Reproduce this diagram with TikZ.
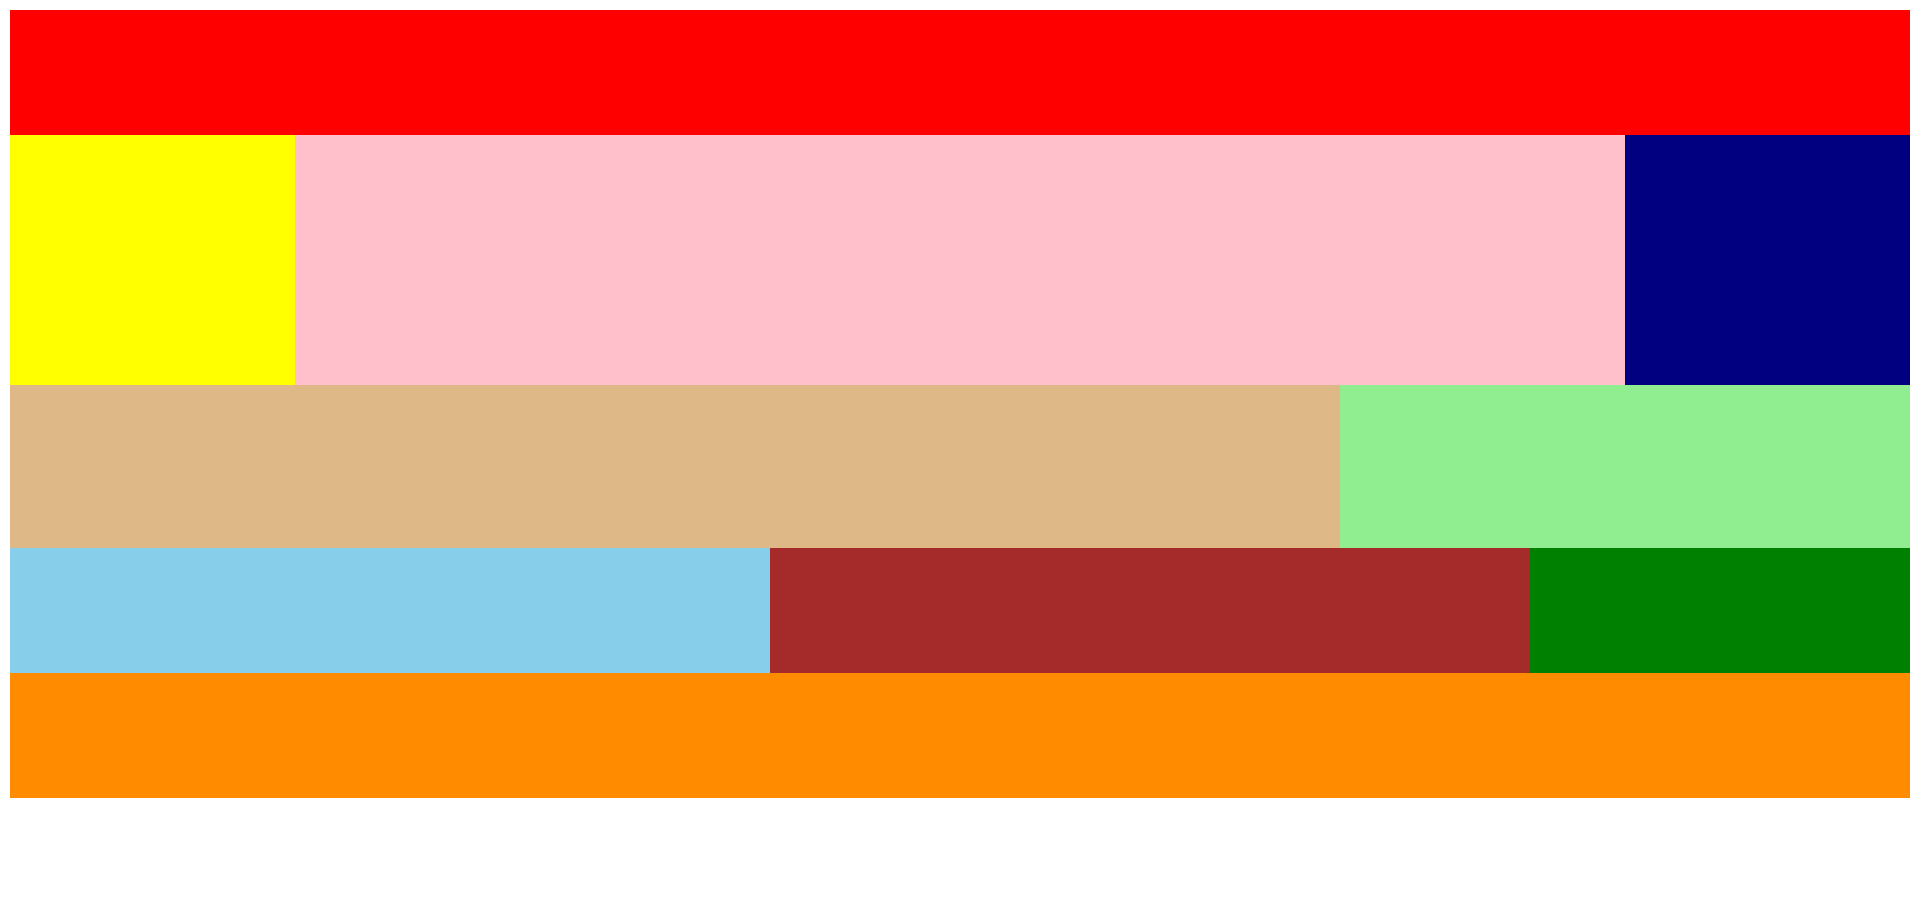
\documentclass[tikz,border=0pt]{standalone}
\usepackage{xcolor}
\usepackage{tikz}
\definecolor{redband}{HTML}{FF0000}
\definecolor{yellowband}{HTML}{FFFF00}
\definecolor{pinkband}{HTML}{FFC0CB}
\definecolor{navyband}{HTML}{000080}
\definecolor{tanband}{HTML}{DEB887}
\definecolor{lgreenband}{HTML}{90EE90}
\definecolor{skyband}{HTML}{87CEEB}
\definecolor{brownband}{HTML}{A52A2A}
\definecolor{greenband}{HTML}{008000}
\definecolor{orangeband}{HTML}{FF8C00}

\begin{document}
\begin{tikzpicture}[x=0.5pt, y=-0.5pt,
  band/.style={inner sep=0pt, outer sep=0pt, draw=none}]
\useasboundingbox (0,0) rectangle (1920,902);
% rows of coloured blocks: x0, y0, x1, y1, colour
\foreach \xa/\ya/\xb/\yb/\col in {
  10/10/1910/135/redband,
  10/135/295/385/yellowband, 295/135/1625/385/pinkband, 1625/135/1910/385/navyband,
  10/385/1340/548/tanband, 1340/385/1910/548/lgreenband,
  10/548/770/673/skyband, 770/548/1530/673/brownband, 1530/548/1910/673/greenband,
  10/673/1910/798/orangeband}{
  \fill[band, fill=\col] (\xa,\ya) rectangle (\xb,\yb);
}
\end{tikzpicture}
\end{document}
